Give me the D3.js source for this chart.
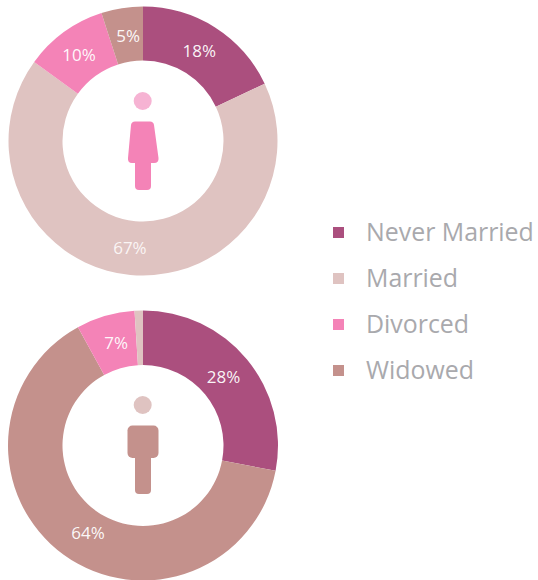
<!DOCTYPE html>
<html><head><meta charset="utf-8">
<style>html,body{margin:0;padding:0;background:#fff}svg{display:block}text{font-family:"Open Sans","Noto Sans",sans-serif}</style>
<script src="https://cdn.jsdelivr.net/npm/d3@7"></script></head>
<body><svg id="c" width="538" height="580"></svg>
<script>
const categories = ["Never Married","Married","Divorced","Widowed"];
const femaleValues = [18,67,10,5];
const maleValues = [28,64,7,1];
const femaleOrder = ["Never Married","Married","Divorced","Widowed"];
const maleOrder = ["Never Married","Widowed","Divorced","Married"];
const colors = ["#ab4f7e","#dfc3c1","#f483b7","#c4918c"];

const svg = d3.select("#c");
const color = d3.scaleOrdinal(categories, colors);
const pie = d3.pie().sort(null).value(d => d.v);

// small hand adjustments to the label anchor, in pixels
const femaleNudge = {"Never Married":[-1,0],"Married":[-3,1],"Divorced":[-1,1],"Widowed":[2,1]};
const maleNudge = {"Never Married":[-2,0],"Widowed":[8,1],"Divorced":[3,0]};

function donut(cx, cy, R, order, values, nudge) {
  const rows = order.map((c, i) => ({c, v: values[i]}));
  const arc = d3.arc().innerRadius(80.5).outerRadius(R);
  const labelArc = d3.arc().innerRadius(107).outerRadius(107);
  const g = svg.append("g").attr("transform", `translate(${cx},${cy})`);
  g.selectAll("path").data(pie(rows)).join("path").attr("d", arc).attr("fill", d => color(d.data.c));
  g.selectAll("text").data(pie(rows).filter(d => d.data.v >= 3)).join("text")
    .attr("transform", d => {
      const [x, y] = labelArc.centroid(d), [nx, ny] = nudge[d.data.c];
      return `translate(${x + nx},${y + ny})`;
    })
    .attr("text-anchor", "middle").attr("dy", "0.35em")
    .attr("font-size", 17).attr("fill", "#fff")
    .attr("fill-opacity", d => d.data.c === "Married" ? 0.85 : 0.95)
    .text(d => d.data.v + "%");
}
donut(143, 141, 134.5, femaleOrder, femaleValues, femaleNudge);
donut(143, 445.5, 135, maleOrder, maleValues, maleNudge);

// female icon
const f = svg.append("g").attr("fill", colors[2]);
f.append("circle").attr("cx",142.7).attr("cy",101).attr("r",9).attr("fill","#f6b3d3");
f.append("path").attr("d","M135,121.5H150Q153.5,121.5 154,125L158.5,158Q159,163 154,163H132Q127.5,163 128,158L131,125Q131.5,121.5 135,121.5Z");
f.append("path").attr("d","M135,163H151V186Q151,190 147,190H139Q135,190 135,186Z");
// male icon
const m = svg.append("g").attr("fill", colors[3]);
m.append("circle").attr("cx",142.7).attr("cy",405).attr("r",9).attr("fill",colors[1]);
m.append("rect").attr("x",127.5).attr("y",425.5).attr("width",31).attr("height",32.5).attr("rx",5);
m.append("path").attr("d","M135,458H151V490Q151,494 147,494H139Q135,494 135,490Z");

// legend
const legendY = d3.scalePoint().domain(categories).range([232.5,370.5]);
const lg = svg.append("g").selectAll("g").data(categories).join("g")
  .attr("transform", d => `translate(333,${legendY(d)})`);
lg.append("rect").attr("y",-5.5).attr("width",11).attr("height",11).attr("fill", d => color(d));
lg.append("text").attr("x",33).attr("dy","0.35em").attr("font-size",24.9).attr("fill","#a9a9ad").text(d => d);
</script></body></html>
